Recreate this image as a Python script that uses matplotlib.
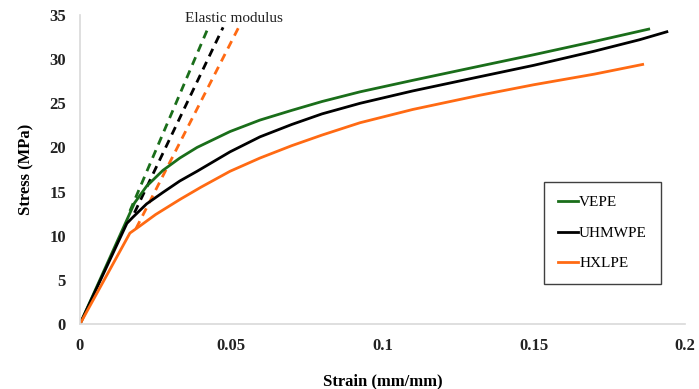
import matplotlib.pyplot as plt

# stress-strain curves
vepe_strain = [0, 0.018, 0.022, 0.0274, 0.033, 0.0387, 0.0496, 0.0595, 0.07, 0.08, 0.0926,
               0.11, 0.132, 0.15, 0.17, 0.188]
vepe_stress = [0, 13.7, 15.6, 17.4, 18.8, 20.0, 21.8, 23.1, 24.2, 25.2, 26.3,
               27.6, 29.2, 30.5, 32.0, 33.4]

uhmwpe_strain = [0, 0.0155, 0.0175, 0.022, 0.0274, 0.033, 0.0387, 0.0496, 0.0595, 0.07, 0.08,
                 0.0926, 0.11, 0.132, 0.15, 0.17, 0.185, 0.194]
uhmwpe_stress = [0, 11.4, 12.1, 13.6, 14.9, 16.2, 17.3, 19.5, 21.2, 22.6, 23.8,
                 25.0, 26.4, 28.0, 29.3, 30.9, 32.2, 33.1]

hxlpe_strain = [0, 0.0165, 0.0198, 0.025, 0.033, 0.04, 0.0496, 0.0595, 0.07, 0.08, 0.0926,
                0.11, 0.132, 0.15, 0.17, 0.186]
hxlpe_stress = [0, 10.3, 11.1, 12.4, 14.1, 15.5, 17.3, 18.8, 20.2, 21.4, 22.8,
                24.3, 25.9, 27.1, 28.3, 29.4]

# elastic modulus guide lines (start, end)
vepe_mod_x = [0.0165, 0.0423]
vepe_mod_y = [12.8, 33.5]
uhmwpe_mod_x = [0.018, 0.0473]
uhmwpe_mod_y = [12.6, 33.6]
hxlpe_mod_x = [0.0185, 0.0523]
hxlpe_mod_y = [10.8, 33.5]

green = "#1a6e1a"
black = "#000000"
orange = "#ff6a13"

plt.rcParams["font.family"] = ["Liberation Serif", "DejaVu Serif"]

fig = plt.figure(figsize=(6.99, 3.89), dpi=100)
ax = fig.add_axes([80 / 699, 1 - 324 / 389, (685 - 80) / 699, (324 - 15) / 389])

dash = (0, (3, 2.2))
ax.plot(vepe_mod_x, vepe_mod_y, color=green, lw=2, ls=dash)
ax.plot(uhmwpe_mod_x, uhmwpe_mod_y, color=black, lw=2, ls=dash)
ax.plot(hxlpe_mod_x, hxlpe_mod_y, color=orange, lw=2, ls=dash)

ax.plot(vepe_strain, vepe_stress, color=green, lw=2, label="VEPE", solid_joinstyle="round")
ax.plot(uhmwpe_strain, uhmwpe_stress, color=black, lw=2, label="UHMWPE", solid_joinstyle="round")
ax.plot(hxlpe_strain, hxlpe_stress, color=orange, lw=2, label="HXLPE", solid_joinstyle="round")

ax.text(0.051, 34.6, "Elastic modulus", fontsize=11, ha="center", va="center", color="#222222")

ax.set_xlim(0, 0.2)
ax.set_ylim(0, 35)
ax.set_xticks([0, 0.05, 0.1, 0.15, 0.2])
ax.set_xticklabels(["0", "0.05", "0.1", "0.15", "0.2"])
ax.set_yticks(range(0, 36, 5))
ax.tick_params(length=0, labelsize=12)
ax.tick_params(axis="y", pad=10)
ax.tick_params(axis="x", pad=10)
for lab in ax.get_xticklabels() + ax.get_yticklabels():
    lab.set_fontweight("bold")
    lab.set_color("#222222")

for s in ["top", "right"]:
    ax.spines[s].set_visible(False)
for s in ["left", "bottom"]:
    ax.spines[s].set_color("#d9d9d9")
    ax.spines[s].set_linewidth(1.2)

ax.set_xlabel("Strain (mm/mm)", fontsize=12, fontweight="bold", labelpad=14)
ax.set_ylabel("Stress (MPa)", fontsize=12, fontweight="bold", labelpad=11)

leg = ax.legend(loc="upper left", bbox_to_anchor=(464 / 605, 142 / 309), fontsize=11,
                handlelength=1.3, handletextpad=0.1, labelspacing=1.1, borderpad=0.9,
                borderaxespad=0, fancybox=False, framealpha=1)
leg.get_frame().set_edgecolor("#404040")
leg.get_frame().set_linewidth(1)

fig.savefig("out.png", dpi=100)
